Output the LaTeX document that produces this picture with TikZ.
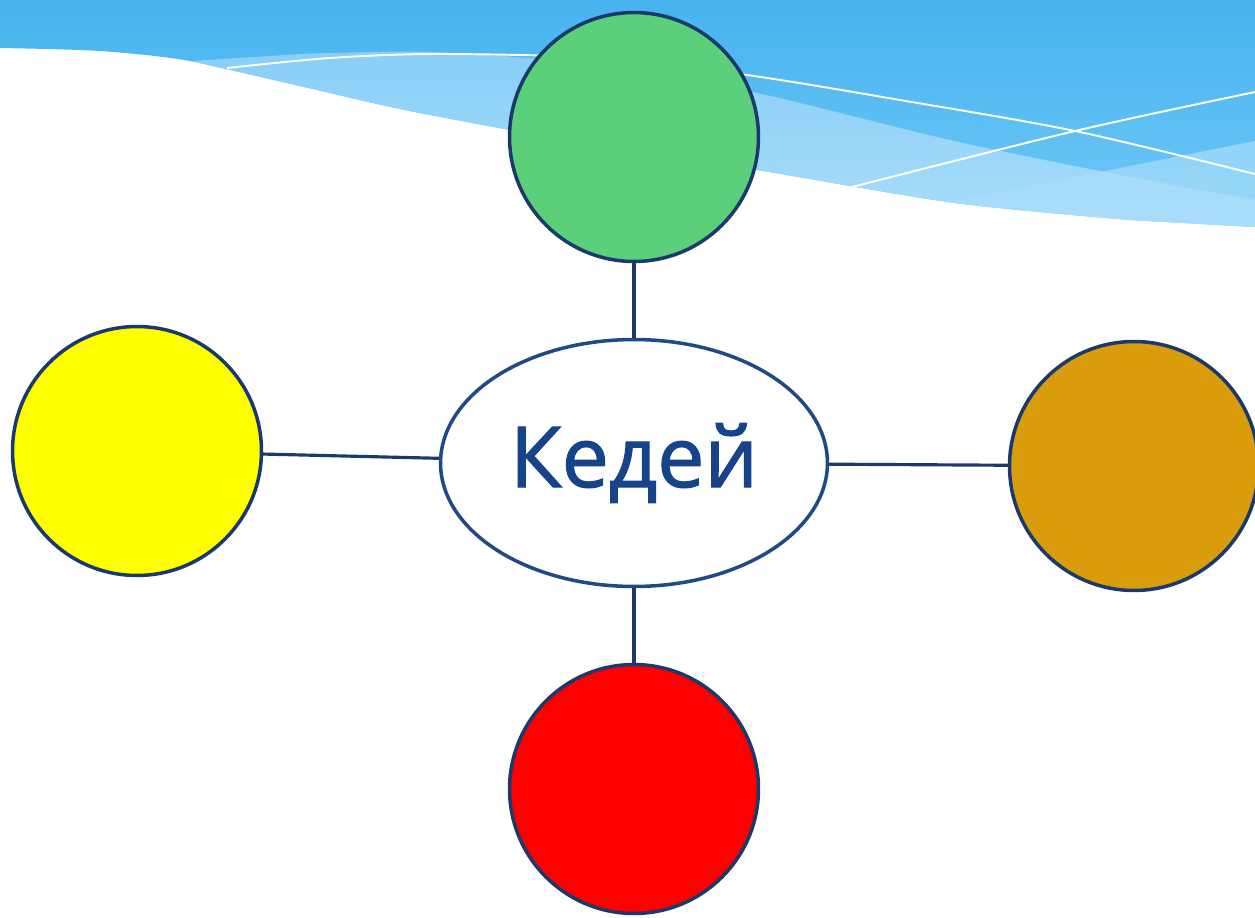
\documentclass[tikz,border=0pt]{standalone}
\usepackage{fontspec}
\setmainfont{Open Sans}
\newfontfamily\hubfont{Open Sans}[FakeBold=1.4]
\usetikzlibrary{shapes.geometric}

\definecolor{navy}{HTML}{1B3A6B}
\definecolor{rimblue}{HTML}{1F4A85}
\definecolor{inkblue}{HTML}{16438A}
\definecolor{leafgreen}{HTML}{5CCF7A}
\definecolor{sunyellow}{HTML}{FFFF00}
\definecolor{goldbrown}{HTML}{D99C0C}
\definecolor{skytop}{HTML}{46B3EE}
\definecolor{skybot}{HTML}{70C8F6}
\definecolor{skyA}{HTML}{88CEF7}
\definecolor{skyB}{HTML}{A9DDFA}

\tikzset{
  ball/.style={circle, draw=navy, line width=2pt, minimum size=4.98cm, inner sep=0pt},
  hub/.style={ellipse, draw=rimblue, line width=2pt, fill=white, minimum width=7.74cm,
    minimum height=4.94cm, inner sep=0pt, text=inkblue, font=\hubfont\fontsize{48}{56}\selectfont},
  link/.style={draw=navy, line width=1.8pt}
}

\begin{document}
\begin{tikzpicture}[x=0.02cm, y=-0.02cm]
  \useasboundingbox (0,0) rectangle (1255,917);

  % sky band at the top
  \shade[top color=skytop, bottom color=skybot]
    (0,0) -- (1255,0) -- (1255,227)
    -- plot[smooth] coordinates {(1130,220) (955,203) (757,170) (600,146)
      (415,112) (300,86) (190,61) (100,51) (0,48)} -- cycle;
  \shade[top color=skyA, bottom color=skyB]
    (190,61) -- plot[smooth] coordinates {(300,54) (433,52) (600,65) (757,93) (950,140)
      (1110,173) (1255,200)} -- (1255,227)
    -- plot[smooth] coordinates {(1130,220) (955,203) (757,170) (600,146)
      (415,112) (300,86) (190,61)} -- cycle;
  \fill[skyB, opacity=0.7]
    (953,202) -- plot[smooth] coordinates {(1100,172) (1255,141)} -- (1255,227)
    -- plot[smooth] coordinates {(1130,220) (953,202)} -- cycle;
  \draw[white, line width=1.1pt]
    plot[smooth] coordinates {(227,68) (330,58) (437,54) (600,58) (747,75) (900,100)
      (1075,131) (1255,174)};
  \draw[white, line width=1.1pt]
    plot[smooth] coordinates {(848,188) (1075,131) (1255,92)};

  \node[hub] (kedei) at (634,463) {Кедей};

  \node[ball, fill=leafgreen] (green) at (634,137) {};
  \node[ball, fill=sunyellow] (yellow) at (137,451) {};
  \node[ball, fill=goldbrown] (gold) at (1134,466) {};
  \node[ball, fill=red] (red) at (634,789) {};

  \draw[link] (green) to (kedei);
  \draw[link] (yellow) to (kedei);
  \draw[link] (kedei) to (gold);
  \draw[link] (kedei) to (red);
\end{tikzpicture}
\end{document}
